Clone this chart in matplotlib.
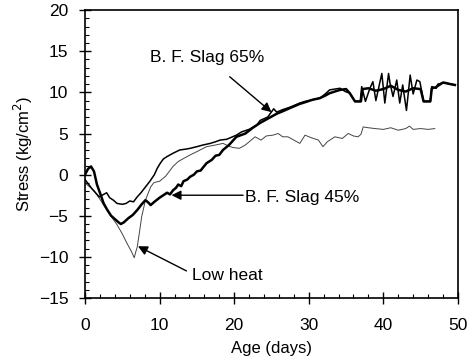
import matplotlib.pyplot as plt
from matplotlib.ticker import MultipleLocator

plt.rcParams['font.family'] = ['Liberation Sans', 'DejaVu Sans']

# B. F. Slag 45% (thick line)
age_45 = [0, 0.4, 0.8, 1.2, 1.6, 2.0, 2.5, 3.0, 3.5, 4.0, 4.5, 4.8, 5.2, 5.8, 6.4,
          7.0, 7.6, 8.1, 8.5, 8.8, 9.3, 10.0, 10.5, 11.0, 11.4, 11.8, 12.2, 12.5,
          12.9, 13.2, 13.7, 14.1, 14.6, 15.0, 15.5, 16.3, 17.0, 17.5, 18.0, 18.5,
          19.3, 20.3, 21.5, 22.5, 23.5, 24.5, 25.7, 26.5, 27.5, 28.8, 29.5, 30.5,
          31.5, 32.2, 32.8, 33.5, 34.2, 35.0, 35.5, 36.2, 37.0, 37.2, 38.0, 39.0,
          40.0, 41.0, 42.0, 43.0, 44.0, 45.0, 45.4, 46.3, 46.5, 47.0, 48.0, 49.0,
          49.6]
stress_45 = [0, 0.7, 1.0, 0.4, -1.2, -2.2, -3.5, -4.3, -5.0, -5.4, -5.8, -6.0, -5.8,
             -5.3, -4.9, -4.3, -3.6, -3.1, -3.4, -3.7, -3.3, -2.8, -2.5, -2.2, -2.4,
             -1.9, -1.6, -1.2, -1.4, -0.8, -0.6, -0.25, 0.0, 0.4, 0.5, 1.4, 1.8, 2.3,
             2.4, 3.0, 3.6, 4.6, 5.0, 5.7, 6.3, 6.8, 7.4, 7.7, 8.1, 8.6, 8.8, 9.1,
             9.3, 9.6, 9.9, 10.1, 10.3, 10.4, 9.9, 8.9, 8.9, 10.4, 10.5, 10.2, 10.4,
             10.8, 10.3, 10.1, 10.5, 10.4, 8.9, 8.9, 10.5, 10.6, 11.2, 11.0, 10.9]

# B. F. Slag 65% (medium line, spiky at late age)
age_65 = [0, 0.5, 1.0, 1.5, 1.9, 2.5, 2.9, 3.3, 3.8, 4.3, 5.0, 5.5, 6.0, 6.5, 7.0,
          7.5, 8.1, 8.7, 9.3, 9.7, 10.1, 10.5, 11.0, 11.8, 12.7, 13.5, 14.1, 15.0,
          15.8, 16.8, 17.5, 18.1, 19.0, 20.3, 21.0, 22.0, 23.0, 23.5, 24.5, 25.3,
          25.7, 26.5, 27.5, 28.8, 29.5, 30.5, 31.5, 32.2, 32.8, 33.5, 34.2, 34.9,
          35.5, 36.2, 36.9, 37.1, 37.6, 38.2, 38.6, 39.0, 39.8, 40.2, 40.7, 40.9,
          41.3, 41.8, 42.2, 42.6, 43.1, 43.6, 44.0, 44.5, 44.9, 45.4, 46.3, 46.5,
          47.1, 47.3, 48.3, 49.0, 49.6]
stress_65 = [-0.6, -1.2, -1.8, -2.3, -2.7, -2.4, -2.2, -2.8, -3.1, -3.5, -3.6, -3.5,
             -3.2, -3.3, -2.7, -2.2, -1.5, -0.8, 0.0, 0.8, 1.4, 1.9, 2.2, 2.6, 3.0,
             3.1, 3.2, 3.4, 3.6, 3.8, 4.0, 4.2, 4.3, 4.8, 5.2, 5.5, 6.0, 6.6, 7.0,
             8.0, 7.6, 7.9, 8.2, 8.7, 8.9, 9.1, 9.3, 9.8, 10.3, 10.4, 10.5, 10.1,
             9.9, 8.9, 8.9, 10.7, 8.9, 10.5, 11.3, 9.0, 12.3, 8.7, 12.3, 11.1, 9.5,
             11.5, 8.7, 10.9, 7.8, 12.1, 9.8, 11.5, 11.3, 8.9, 8.9, 10.7, 10.5,
             11.0, 11.2, 11.0, 10.9]

# Low heat (thin line)
age_low = [0, 0.5, 1.2, 2.0, 3.0, 4.3, 5.0, 5.6, 6.2, 6.6, 6.8, 7.0, 7.3, 7.6, 8.1,
           8.8, 9.2, 9.5, 10.0, 10.8, 11.8, 12.5, 13.3, 14.1, 15.0, 16.3, 17.5,
           18.5, 19.2, 19.8, 20.7, 21.5, 22.8, 23.6, 24.3, 25.2, 25.9, 26.5, 27.2,
           28.0, 28.8, 29.5, 30.3, 31.3, 31.9, 32.5, 33.5, 34.5, 35.3, 36.0, 36.6,
           37.0, 37.3, 38.0, 38.9, 40.0, 41.0, 42.0, 43.0, 43.5, 44.0, 45.0, 46.0,
           46.9]
stress_low = [-1.0, -1.4, -1.9, -3.0, -4.4, -6.1, -7.2, -8.3, -9.3, -10.1, -9.4,
              -8.8, -7.0, -5.1, -3.1, -1.5, -1.0, -0.9, -0.8, -0.2, 1.0, 1.6, 2.0,
              2.4, 2.8, 3.4, 3.6, 3.8, 3.5, 3.3, 3.2, 3.6, 4.6, 4.2, 4.7, 4.8, 5.0,
              4.6, 4.6, 4.2, 3.8, 4.8, 4.5, 4.2, 3.4, 4.0, 4.6, 4.4, 5.0, 4.7, 4.6,
              4.9, 5.8, 5.7, 5.6, 5.5, 5.7, 5.4, 5.6, 5.9, 5.5, 5.6, 5.5, 5.6]

fig = plt.figure(figsize=(4.75, 3.6), dpi=100)
ax = fig.add_axes([0.179, 0.172, 0.785, 0.8])

ax.plot(age_low, stress_low, color='#444444', linewidth=0.7)
ax.plot(age_65, stress_65, color='black', linewidth=1.1)
ax.plot(age_45, stress_45, color='black', linewidth=1.8)

ax.set_xlim(0, 50)
ax.set_ylim(-15, 20)
ax.xaxis.set_major_locator(MultipleLocator(10))
ax.xaxis.set_minor_locator(MultipleLocator(2))
ax.yaxis.set_major_locator(MultipleLocator(5))
ax.yaxis.set_minor_locator(MultipleLocator(1))
ax.tick_params(which='major', direction='inout', length=8, width=1, labelsize=12.5)
ax.tick_params(axis='x', which='major', pad=10)
ax.tick_params(axis='y', which='major', pad=8)
ax.tick_params(which='minor', direction='in', length=3, width=0.8)
ax.tick_params(top=False, right=False)
for s in ax.spines.values():
    s.set_linewidth(1.2)

ax.set_xlabel('Age (days)', fontsize=12, labelpad=6)
ax.set_ylabel('Stress (kg/cm$^2$)', fontsize=12, labelpad=3)

arrow = dict(arrowstyle='-|>', color='black', lw=1.0, mutation_scale=14,
             shrinkA=0, shrinkB=0)
ax.text(16.4, 14.2, 'B. F. Slag 65%', fontsize=12.5, ha='center', va='center')
ax.annotate('', xy=(25.0, 7.6), xytext=(19.4, 11.9), arrowprops=arrow)
ax.text(21.4, -2.8, 'B. F. Slag 45%', fontsize=12.5, ha='left', va='center')
ax.annotate('', xy=(11.6, -2.5), xytext=(21.2, -2.5), arrowprops=arrow)
ax.text(14.3, -12.2, 'Low heat', fontsize=12.5, ha='left', va='center')
ax.annotate('', xy=(7.1, -8.7), xytext=(13.6, -11.7), arrowprops=arrow)

plt.savefig('out.png', dpi=100)
